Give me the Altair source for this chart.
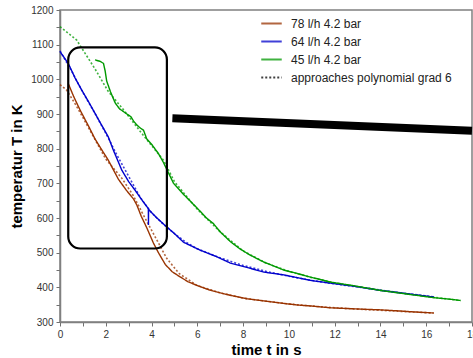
import altair as alt
import pandas as pd

S78 = "78 l/h 4.2 bar"
S64 = "64 l/h 4.2 bar"
S45 = "45 l/h 4.2 bar"
SFIT = "approaches polynomial grad 6"

series_names = [S78, S64, S45, SFIT]
series_colors = ["#993300", "#0000cc", "#009900", "#000000"]

# measured curves (time s, temperature K)
t78 = [0.36, 0.6, 0.88, 1.24, 1.53, 1.82, 2.1, 2.55, 2.9, 3.21, 3.36, 3.55, 3.79, 4.08, 4.3, 4.6,
       4.9, 5.25, 5.6, 6.0, 6.5, 7.0, 7.44, 8.17, 9.0, 10.36, 11.0, 11.8, 12.5, 13.2, 14.0, 14.8, 15.5, 16.34]
T78 = [988, 950, 911, 866, 828, 797, 768, 712, 680, 655, 637, 605, 572, 528, 500, 466,
       445, 430, 416, 405, 393, 384, 377, 367, 360, 349, 346, 341, 339, 337, 335, 332, 329, 326]

t64 = [0.0, 0.36, 0.65, 0.95, 1.25, 1.53, 1.8, 2.11, 2.33, 2.7, 3.0, 3.28, 3.6, 3.86, 3.865, 3.87,
       4.2, 4.6, 5.0, 5.4, 6.13, 6.86, 7.44, 8.3, 8.9, 9.77, 10.36, 10.94, 11.82, 12.8, 14.0, 15.0, 16.34]
T64 = [1080, 1046, 1005, 969, 935, 902, 870, 834, 796, 738, 705, 680, 650, 627, 580, 625,
       602, 578, 555, 530, 507, 488, 470, 455, 444, 436, 428, 420, 412, 404, 391, 383, 372]

t45 = [1.53, 1.75, 1.9, 1.97, 2.04, 2.2, 2.41, 2.6, 2.92, 3.1, 3.21, 3.36, 3.5, 3.65, 3.79, 4.01,
       4.3, 4.52, 4.74, 4.96, 5.4, 6.0, 6.4, 6.7, 7.0, 7.44, 7.88, 8.31, 8.9, 9.4, 9.77, 10.36,
       10.8, 11.82, 12.8, 14.0, 15.0, 16.34, 17.0, 17.5]
T45 = [1056, 1052, 1046, 1025, 995, 965, 932, 915, 900, 892, 880, 868, 860, 853, 828, 812,
       786, 760, 730, 700, 668, 628, 600, 584, 560, 532, 510, 493, 473, 460, 450, 440,
       432, 415, 405, 391, 382, 370, 366, 362]

# polynomial fits (dotted)
f78_t = [0.0, 0.29, 0.7, 1.0, 1.46, 2.0, 2.7, 3.2, 3.57, 4.16, 4.67, 5.2, 6.0, 7.0, 8.0, 9.0,
         10.0, 11.0, 12.0, 13.0, 14.0, 15.0, 16.3]
f78_T = [985, 969, 925, 890, 835, 770, 715, 665, 618, 545, 483, 440, 405, 384, 369, 360,
         352, 346, 341, 337, 334, 330, 326]
f64_t = [0.0, 0.5, 1.0, 1.5, 2.0, 2.5, 3.0, 3.5, 4.0, 4.5, 5.0, 5.5, 6.0, 7.0, 8.0, 9.0,
         10.0, 11.0, 12.0, 13.0, 14.0, 15.0, 16.3]
f64_T = [1082, 1025, 962, 905, 845, 780, 720, 660, 615, 583, 555, 530, 511, 485, 463, 446,
         432, 420, 410, 401, 392, 383, 373]
f45_t = [0.0, 0.73, 1.53, 2.11, 2.84, 3.5, 4.16, 4.52, 5.0, 6.0, 7.0, 8.0, 9.0, 10.0, 11.0,
         12.0, 13.0, 14.0, 15.0, 16.0, 17.5]
f45_T = [1152, 1113, 1030, 965, 907, 850, 796, 767, 705, 625, 560, 505, 470, 446, 428,
         413, 402, 392, 383, 374, 362]

# annotations (data units)
box_t = [0.36, 4.67]
box_T = [1092, 512]
bar_t = [4.91, 18.0]
bar_T = [887.6, 852.0]

x_ticks = list(range(0, 19))
y_ticks = list(range(300, 1201, 50))

solid = pd.concat([
    pd.DataFrame({"t": t78, "T": T78, "series": S78}),
    pd.DataFrame({"t": t64, "T": T64, "series": S64}),
    pd.DataFrame({"t": t45, "T": T45, "series": S45}),
])
fits = pd.concat([
    pd.DataFrame({"t": f78_t, "T": f78_T, "series": S78}),
    pd.DataFrame({"t": f64_t, "T": f64_T, "series": S64}),
    pd.DataFrame({"t": f45_t, "T": f45_T, "series": S45}),
])
box = pd.DataFrame({"t": [box_t[0]], "t2": [box_t[1]], "T": [box_T[0]], "T2": [box_T[1]]})
bar = pd.DataFrame({"t": bar_t, "T": bar_T})

FONT = "Liberation Sans"
xscale = alt.Scale(domain=[0, 18], nice=False, zero=False)
yscale = alt.Scale(domain=[300, 1200], nice=False, zero=False)

xaxis = alt.Axis(values=x_ticks, format="d",
                 labelExpr="datum.value % 2 == 0 ? datum.label : ''",
                 labelOverlap=False,
                 title="time t in s", titleFontSize=15, titleFontWeight="bold",
                 titleFont=FONT, titleColor="#000000", titlePadding=3,
                 labelFont=FONT, labelFontSize=10, labelColor="#333333",
                 labelFlush=False, labelPadding=3,
                 tickSize=4, tickColor="#707070", domainColor="#808080", domainWidth=1.5,
                 grid=False)
yaxis = alt.Axis(values=y_ticks, format="d",
                 labelExpr="datum.value % 100 == 0 ? datum.label : ''",
                 labelOverlap=False,
                 title="temperatur T in K", titleFontSize=15, titleFontWeight="bold",
                 titleFont=FONT, titleColor="#000000", titlePadding=6,
                 labelFont=FONT, labelFontSize=10, labelColor="#333333",
                 labelPadding=3, labelFlush=False,
                 tickSize=4, tickColor="#707070", domainColor="#808080", domainWidth=1.5,
                 grid=False)

X = alt.X("t:Q", scale=xscale, axis=xaxis)
Y = alt.Y("T:Q", scale=yscale, axis=yaxis)

color = alt.Color("series:N",
                  scale=alt.Scale(domain=series_names, range=series_colors),
                  legend=alt.Legend(title=None, orient="none", legendX=200, legendY=2,
                                    symbolType="stroke", symbolSize=420, symbolStrokeWidth=2,
                                    labelFont=FONT, labelFontSize=12, labelColor="#222222",
                                    labelOffset=8, rowPadding=-4, padding=0, labelLimit=400))
dash = alt.StrokeDash("series:N",
                      scale=alt.Scale(domain=series_names,
                                      range=[[1, 0], [1, 0], [1, 0], [2, 2]]),
                      legend=alt.Legend(title=None))

fit_layer = alt.Chart(fits).mark_line(strokeWidth=1.6, strokeDash=[2, 2], opacity=0.75).encode(
    x=X, y=Y, color=color, detail="series:N",
)
solid_layer = alt.Chart(solid).mark_line(strokeWidth=1.4).encode(
    x=X, y=Y, color=color, strokeDash=dash,
)
box_layer = alt.Chart(box).mark_rect(fillOpacity=0, stroke="black", strokeWidth=2.2,
                                     cornerRadius=12).encode(
    x=X, x2="t2:Q", y=Y, y2="T2:Q")
bar_layer = alt.Chart(bar).mark_line(strokeWidth=8, color="black", strokeCap="butt",
                                     clip=False).encode(x=X, y=Y)

chart = alt.layer(fit_layer, solid_layer, box_layer, bar_layer).properties(
    width=412, height=312,
    padding={"left": 60, "top": 10, "right": 1, "bottom": 36},
    autosize=alt.AutoSizeParams(type="none"),
    background="white",
).configure_view(stroke="#808080", strokeWidth=1.5)

chart.save("out.html", embed_options={"renderer": "svg", "actions": False})
